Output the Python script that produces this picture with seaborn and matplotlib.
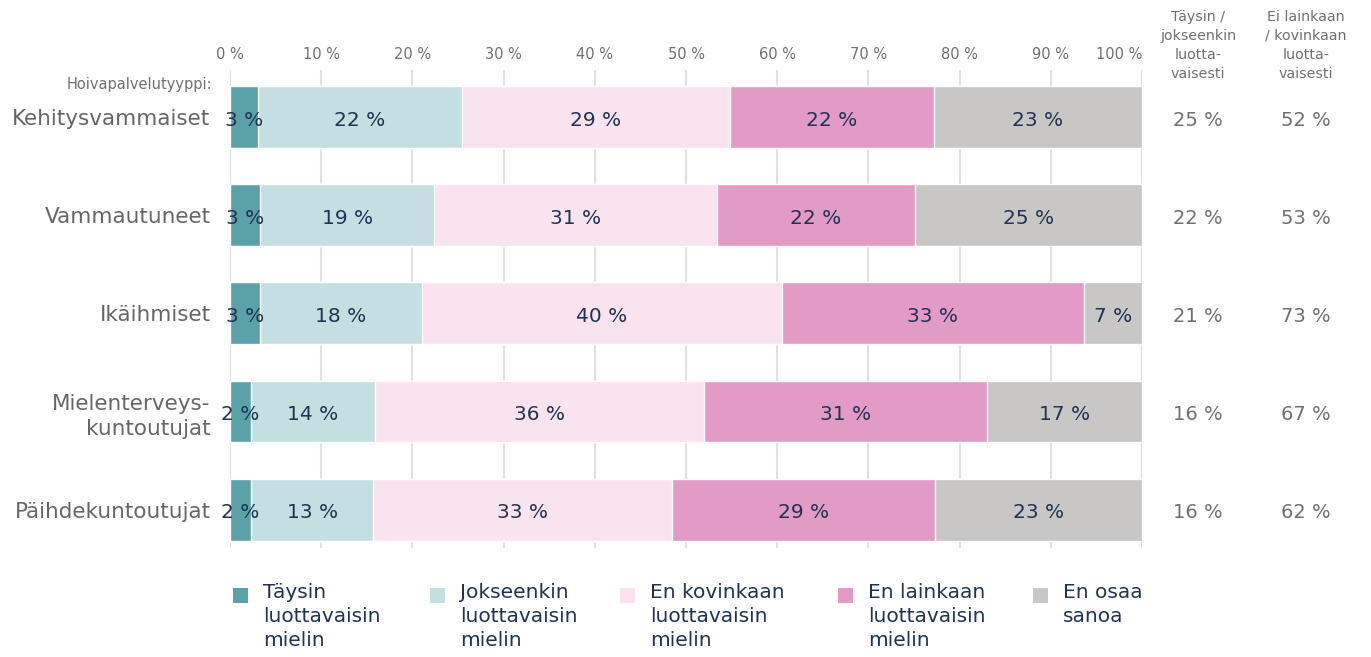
import numpy as np
import pandas as pd
import matplotlib.pyplot as plt
import seaborn as sns
from matplotlib.patches import Rectangle

# Data (percent shares)
categories = ["Kehitysvammaiset", "Vammautuneet", "Ikäihmiset",
              "Mielenterveys-\nkuntoutujat", "Päihdekuntoutujat"]
taysin = [3.1, 3.3, 3.3, 2.3, 2.3]
jokseenkin = [22.3, 19.1, 17.7, 13.6, 13.4]
en_kovinkaan = [29.4, 31.0, 39.5, 36.1, 32.8]
en_lainkaan = [22.4, 21.7, 33.1, 31.0, 28.8]
en_osaa = [22.8, 24.9, 6.4, 17.0, 22.7]
labels_shown = [[3, 22, 29, 22, 23],
                [3, 19, 31, 22, 25],
                [3, 18, 40, 33, 7],
                [2, 14, 36, 31, 17],
                [2, 13, 33, 29, 23]]
luottavaisesti = [25, 22, 21, 16, 16]
ei_luottavaisesti = [52, 53, 73, 67, 62]

series_names = ["Täysin\nluottavaisin\nmielin", "Jokseenkin\nluottavaisin\nmielin",
                "En kovinkaan\nluottavaisin\nmielin", "En lainkaan\nluottavaisin\nmielin",
                "En osaa\nsanoa"]
colors = ["#5aa2a7", "#c4dfe1", "#f8e3ef", "#e29bc4", "#c8c7c6"]

navy = "#1f3354"
grey_txt = "#707070"

sns.set_theme(style="white")
plt.rcParams['font.family'] = ['DejaVu Sans']

fig = plt.figure(figsize=(13.71, 6.57), dpi=100)
ax = fig.add_axes([230 / 1371, 1 - 548 / 657, 912 / 1371, (548 - 70) / 657])

series = [taysin, jokseenkin, en_kovinkaan, en_lainkaan, en_osaa]
vals = np.array(series).T  # rows x series
cum = np.cumsum(vals, axis=1)

# stacked bars: draw cumulative totals from the longest to the shortest
for j in range(len(series) - 1, -1, -1):
    df = pd.DataFrame({"cat": categories, "val": cum[:, j]})
    sns.barplot(data=df, x="val", y="cat", orient="h", color=colors[j],
                width=0.63, saturation=1, ax=ax, zorder=3)

for i in range(len(categories)):
    for j in range(len(series)):
        start = cum[i, j] - vals[i, j]
        ax.text(start + vals[i, j] / 2, i + 0.03, f"{labels_shown[i][j]} %",
                ha="center", va="center", fontsize=14.5, color=navy, zorder=5)

ax.set_xlim(0, 100)
ax.set_ylim(4.39, -0.48)
ax.set_xticks(np.arange(0, 101, 10))
ax.set_xticklabels([f"{t} %" for t in range(0, 101, 10)])
ax.xaxis.tick_top()
ax.tick_params(axis="x", length=0, labelsize=10.5, labelcolor=grey_txt, pad=6)
ax.get_xticklabels()[-1].set_ha("right")
ax.tick_params(axis="y", length=0, labelsize=15.5, labelcolor="#666666", pad=14)
for lbl in ax.get_yticklabels():
    lbl.set_ha("right")
    lbl.set_multialignment("right")
    lbl.set_linespacing(1.35)
ax.set_xlabel("")
ax.set_ylabel("")
ax.grid(axis="x", color="#e0e0e0", linewidth=1.5, zorder=0)
ax.set_axisbelow(True)
for s in ax.spines.values():
    s.set_visible(False)

fig.text(212 / 1371, 1 - 85 / 657, "Hoivapalvelutyyppi:", ha="right", va="center",
         fontsize=10.5, color=grey_txt)

# right-hand summary columns
fig.text(1198 / 1371, 1 - 10 / 657, "Täysin /\njokseenkin\nluotta-\nvaisesti",
         ha="center", va="top", fontsize=10.3, color=grey_txt, linespacing=1.45)
fig.text(1306 / 1371, 1 - 10 / 657, "Ei lainkaan\n/ kovinkaan\nluotta-\nvaisesti",
         ha="center", va="top", fontsize=10.3, color=grey_txt, linespacing=1.45)
for i in range(len(categories)):
    ydisp = ax.transData.transform((0, i + 0.03))[1]
    yfig = fig.transFigure.inverted().transform((0, ydisp))[1]
    fig.text(1198 / 1371, yfig, f"{luottavaisesti[i]} %", ha="center", va="center",
             fontsize=14, color=grey_txt)
    fig.text(1306 / 1371, yfig, f"{ei_luottavaisesti[i]} %", ha="center", va="center",
             fontsize=14, color=grey_txt)

# legend
leg_x = [233, 430, 620, 838, 1033]
for x, name, c in zip(leg_x, series_names, colors):
    fig.patches.append(Rectangle((x / 1371, 1 - 603 / 657), 15 / 1371, 15 / 657,
                                 transform=fig.transFigure, facecolor=c,
                                 edgecolor="none"))
    fig.text((x + 30) / 1371, 1 - 583 / 657, name, ha="left", va="top",
             fontsize=14.5, color=navy, linespacing=1.32)

fig.savefig("out.png", dpi=100)
